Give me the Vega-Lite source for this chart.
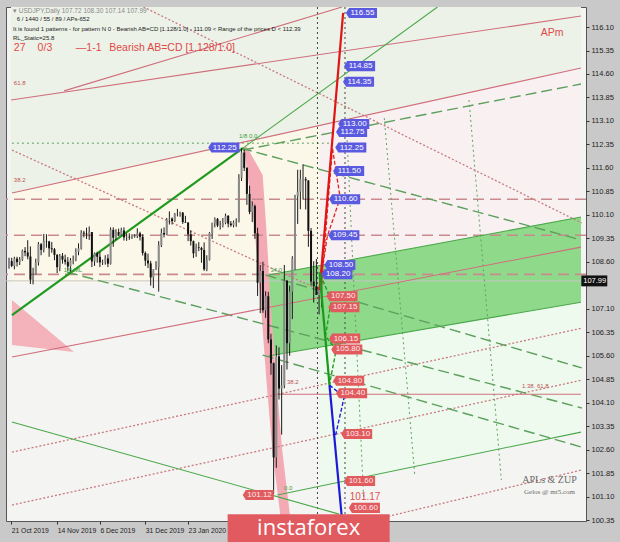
{
  "$schema": "https://vega.github.io/schema/vega-lite/v6.json",
  "width": 580,
  "height": 514,
  "autosize": {"type": "none"},
  "padding": {"left": 6, "top": 7, "right": 34, "bottom": 21},
  "background": "#c9c9c9",
  "config": {
    "view": {"fill": "#f4f4f2", "stroke": "#555555", "strokeWidth": 1},
    "axis": {"labelFont": "Liberation Sans", "labelFontSize": 7.5, "labelColor": "#222222", "tickColor": "#333333", "grid": false, "domain": false, "labelOverlap": false}
  },
  "encoding": {
    "x": {"field": "i", "type": "quantitative", "scale": {"domain": [0.74, 214], "nice": false, "zero": false},
          "axis": {"orient": "bottom", "title": null, "values": [0.8, 18, 34, 51, 67], "labelExpr": "datum.value < 1 ? '21 Oct 2019' : datum.value < 20 ? '14 Nov 2019' : datum.value < 40 ? '6 Dec 2019' : datum.value < 60 ? '31 Dec 2019' : '23 Jan 2020'", "labelAlign": "left", "labelFlush": false, "labelPadding": 3, "tickSize": 3, "labelFontSize": 6.8}},
    "y": {"field": "p", "type": "quantitative", "scale": {"domain": [100.32, 116.74], "nice": false, "zero": false},
          "axis": {"orient": "right", "title": null, "values": [116.10,115.35,114.60,113.85,113.10,112.35,111.60,110.85,110.10,109.35,108.60,107.10,106.35,105.60,104.85,104.10,103.35,102.60,101.85,101.10,100.35], "format": ".2f", "tickSize": 3, "labelPadding": 2}}
  },
  "datasets": {
    "candles": [
      {"i":0,"o":108.44,"h":108.73,"l":108.38,"c":108.62},{"i":1,"o":108.62,"h":108.73,"l":108.43,"c":108.47},{"i":2,"o":108.47,"h":108.76,"l":108.36,"c":108.70},{"i":3,"o":108.70,"h":108.76,"l":108.45,"c":108.59},{"i":4,"o":108.59,"h":108.75,"l":108.50,"c":108.67},
      {"i":5,"o":108.67,"h":108.99,"l":108.63,"c":108.95},{"i":6,"o":108.95,"h":109.07,"l":108.78,"c":108.90},{"i":7,"o":108.90,"h":109.29,"l":108.68,"c":108.77},{"i":8,"o":108.77,"h":109.09,"l":107.89,"c":108.03},{"i":9,"o":108.03,"h":108.41,"l":107.88,"c":108.19},
      {"i":10,"o":108.19,"h":108.70,"l":108.18,"c":108.58},{"i":11,"o":108.58,"h":109.23,"l":108.48,"c":109.16},{"i":12,"o":109.16,"h":109.20,"l":108.81,"c":108.98},{"i":13,"o":108.98,"h":109.49,"l":108.90,"c":109.26},{"i":14,"o":109.26,"h":109.48,"l":109.05,"c":109.25},
      {"i":15,"o":109.25,"h":109.27,"l":108.76,"c":109.03},{"i":16,"o":109.03,"h":109.23,"l":108.89,"c":109.00},{"i":17,"o":109.00,"h":109.04,"l":108.65,"c":108.82},{"i":18,"o":108.82,"h":108.85,"l":108.24,"c":108.43},{"i":19,"o":108.43,"h":108.85,"l":108.30,"c":108.79},
      {"i":20,"o":108.79,"h":108.88,"l":108.54,"c":108.67},{"i":21,"o":108.67,"h":108.83,"l":108.51,"c":108.60},{"i":22,"o":108.60,"h":108.75,"l":108.31,"c":108.45},{"i":23,"o":108.45,"h":108.72,"l":108.28,"c":108.65},{"i":24,"o":108.65,"h":108.80,"l":108.52,"c":108.67},
      {"i":25,"o":108.67,"h":109.03,"l":108.62,"c":108.92},{"i":26,"o":108.92,"h":109.19,"l":108.81,"c":109.03},{"i":27,"o":109.03,"h":109.61,"l":108.99,"c":109.53},{"i":28,"o":109.53,"h":109.59,"l":109.38,"c":109.50},{"i":29,"o":109.50,"h":109.69,"l":109.33,"c":109.48},
      {"i":30,"o":109.48,"h":109.73,"l":109.30,"c":109.55},{"i":31,"o":109.55,"h":109.55,"l":108.43,"c":108.61},{"i":32,"o":108.61,"h":108.90,"l":108.47,"c":108.87},{"i":33,"o":108.87,"h":108.92,"l":108.57,"c":108.76},{"i":34,"o":108.76,"h":108.92,"l":108.43,"c":108.58},
      {"i":35,"o":108.58,"h":108.67,"l":108.50,"c":108.61},{"i":36,"o":108.61,"h":108.81,"l":108.51,"c":108.71},{"i":37,"o":108.71,"h":108.84,"l":108.43,"c":108.54},{"i":38,"o":108.54,"h":109.70,"l":108.51,"c":109.62},{"i":39,"o":109.62,"h":109.70,"l":109.08,"c":109.37},
      {"i":40,"o":109.37,"h":109.64,"l":109.29,"c":109.55},{"i":41,"o":109.55,"h":109.66,"l":109.42,"c":109.47},{"i":42,"o":109.47,"h":109.69,"l":109.45,"c":109.60},{"i":43,"o":109.60,"h":109.70,"l":109.28,"c":109.38},{"i":44,"o":109.38,"h":109.51,"l":109.27,"c":109.40},
      {"i":45,"o":109.40,"h":109.51,"l":109.30,"c":109.38},{"i":46,"o":109.38,"h":109.48,"l":109.33,"c":109.40},{"i":47,"o":109.40,"h":109.48,"l":109.37,"c":109.42},{"i":48,"o":109.42,"h":109.67,"l":109.36,"c":109.51},{"i":49,"o":109.51,"h":109.56,"l":109.28,"c":109.40},
      {"i":50,"o":109.40,"h":109.48,"l":108.80,"c":108.88},{"i":51,"o":108.88,"h":108.93,"l":108.47,"c":108.64},{"i":52,"o":108.64,"h":108.86,"l":108.40,"c":108.55},{"i":53,"o":108.55,"h":108.63,"l":107.84,"c":108.10},{"i":54,"o":108.10,"h":108.31,"l":107.76,"c":108.37},
      {"i":55,"o":108.37,"h":108.62,"l":108.34,"c":108.43},{"i":56,"o":108.43,"h":109.26,"l":107.65,"c":109.13},{"i":57,"o":109.13,"h":109.66,"l":109.07,"c":109.52},{"i":58,"o":109.52,"h":109.70,"l":109.38,"c":109.47},{"i":59,"o":109.47,"h":110.00,"l":109.45,"c":109.95},
      {"i":60,"o":109.95,"h":110.21,"l":109.79,"c":109.98},{"i":61,"o":109.98,"h":110.02,"l":109.79,"c":109.90},{"i":62,"o":109.90,"h":110.16,"l":109.87,"c":110.14},{"i":63,"o":110.14,"h":110.29,"l":110.05,"c":110.14},{"i":64,"o":110.14,"h":110.20,"l":110.04,"c":110.17},
      {"i":65,"o":110.17,"h":110.19,"l":109.81,"c":109.87},{"i":66,"o":109.87,"h":110.07,"l":109.85,"c":109.85},{"i":67,"o":109.85,"h":109.87,"l":109.26,"c":109.48},{"i":68,"o":109.48,"h":109.61,"l":109.12,"c":109.26},{"i":69,"o":109.26,"h":109.28,"l":108.72,"c":108.87},
      {"i":70,"o":108.87,"h":109.18,"l":108.76,"c":109.06},{"i":71,"o":109.06,"h":109.23,"l":108.94,"c":109.04},{"i":72,"o":109.04,"h":109.08,"l":108.57,"c":108.98},{"i":73,"o":108.98,"h":109.22,"l":108.31,"c":108.36},{"i":74,"o":108.36,"h":108.81,"l":108.30,"c":108.66},
      {"i":75,"o":108.66,"h":109.55,"l":108.64,"c":109.52},{"i":76,"o":109.52,"h":109.85,"l":109.33,"c":109.83},{"i":77,"o":109.83,"h":110.02,"l":109.70,"c":109.97},{"i":78,"o":109.97,"h":110.00,"l":109.71,"c":109.76},{"i":79,"o":109.76,"h":109.91,"l":109.63,"c":109.77},
      {"i":80,"o":109.77,"h":110.00,"l":109.70,"c":109.84},{"i":81,"o":109.84,"h":110.14,"l":109.80,"c":110.07},{"i":82,"o":110.07,"h":110.09,"l":109.70,"c":109.82},{"i":83,"o":109.82,"h":109.90,"l":109.72,"c":109.77},{"i":84,"o":109.77,"h":109.92,"l":109.70,"c":109.86},
      {"i":85,"o":109.86,"h":109.99,"l":109.72,"c":109.87},{"i":86,"o":109.87,"h":111.40,"l":109.86,"c":111.28},{"i":87,"o":111.28,"h":112.22,"l":111.18,"c":112.09},{"i":88,"o":112.09,"h":112.18,"l":111.50,"c":111.60},{"i":89,"o":111.60,"h":111.62,"l":110.42,"c":110.77},
      {"i":90,"o":110.77,"h":111.03,"l":110.12,"c":110.19},{"i":91,"o":110.19,"h":110.53,"l":109.87,"c":110.38},{"i":92,"o":110.38,"h":110.43,"l":109.33,"c":109.51},{"i":93,"o":109.51,"h":109.69,"l":107.51,"c":107.93},{"i":94,"o":107.93,"h":108.50,"l":106.96,"c":108.31},
      {"i":95,"o":108.31,"h":108.60,"l":106.97,"c":107.05},{"i":96,"o":107.05,"h":107.66,"l":106.81,"c":107.50},{"i":97,"o":107.50,"h":107.64,"l":106.00,"c":106.12},{"i":98,"o":106.12,"h":106.30,"l":104.99,"c":105.36},{"i":99,"o":105.36,"h":105.38,"l":101.18,"c":102.35},
      {"i":100,"o":102.35,"h":105.93,"l":102.02,"c":105.58},{"i":101,"o":105.58,"h":105.87,"l":104.20,"c":104.55},{"i":102,"o":104.55,"h":105.30,"l":103.08,"c":104.65},{"i":103,"o":104.65,"h":108.50,"l":104.56,"c":108.00},{"i":104,"o":108.00,"h":108.00,"l":105.16,"c":106.00},
      {"i":105,"o":106.00,"h":107.84,"l":105.60,"c":107.65},{"i":106,"o":107.65,"h":108.78,"l":106.77,"c":108.70},{"i":107,"o":108.70,"h":110.74,"l":108.34,"c":110.70},{"i":108,"o":110.70,"h":111.54,"l":109.81,"c":110.84},{"i":109,"o":110.84,"h":111.54,"l":110.28,"c":111.24},
      {"i":110,"o":111.24,"h":111.71,"l":110.59,"c":111.24},{"i":111,"o":111.24,"h":111.31,"l":110.27,"c":111.20},{"i":112,"o":111.20,"h":111.20,"l":109.08,"c":109.59},{"i":113,"o":109.59,"h":109.68,"l":107.84,"c":107.97},{"i":114,"o":107.97,"h":108.62,"l":107.30,"c":107.82},
      {"i":115,"o":107.82,"h":108.69,"l":107.68,"c":107.54},{"i":116,"o":107.54,"h":107.80,"l":106.92,"c":107.72},{"i":117,"o":107.72,"h":108.30,"l":107.14,"c":107.99}
    ],
    "redSolid": [
      {"id":"R1","i":0.74,"p":113.77},{"id":"R1","i":214,"p":116.45},
      {"id":"R2","i":1.1,"p":110.80},{"id":"R2","i":214,"p":114.79},
      {"id":"R3","i":20.6,"p":114.06},{"id":"R3","i":124.6,"p":116.74},
      {"id":"RH","i":99.6,"p":104.37},{"id":"RH","i":214,"p":104.37},
      {"id":"RB","i":1.1,"p":105.56},{"id":"RB","i":214,"p":109.07}
    ],
    "greenSolid": [
      {"id":"GT2","i":87.5,"p":112.23},{"id":"GT2","i":160.3,"p":116.74},
      {"id":"GSL","i":100.4,"p":101.15},{"id":"GSL","i":214,"p":103.16},
      {"id":"GDS","i":1.1,"p":103.48},{"id":"GDS","i":123.5,"p":100.54},
      {"id":"CT","i":97.1,"p":108.18},{"id":"CT","i":214,"p":110.03},
      {"id":"CB","i":97.1,"p":105.59},{"id":"CB","i":214,"p":107.31}
    ],
    "greenDash": [
      {"id":"GL1","i":86.8,"p":112.23},{"id":"GL1","i":214,"p":109.30},
      {"id":"GL2","i":21.7,"p":108.27},{"id":"GL2","i":214.3,"p":103.93},
      {"id":"GL3","i":96.0,"p":108.18},{"id":"GL3","i":214.3,"p":105.21},
      {"id":"GL4","i":94.9,"p":105.62},{"id":"GL4","i":214.3,"p":102.68},
      {"id":"GPR","i":87.5,"p":112.17},{"id":"GPR","i":214,"p":114.28}
    ],
    "pinkDot": [
      {"id":"PD1","i":48.9,"p":116.80},{"id":"PD1","i":214.3,"p":109.84},
      {"id":"PD2","i":1.1,"p":112.17},{"id":"PD2","i":116.2,"p":107.70},
      {"id":"PDa","i":1.1,"p":102.52},{"id":"PDa","i":214.3,"p":106.48},
      {"id":"PDb","i":1.1,"p":100.83},{"id":"PDb","i":214.3,"p":104.82},
      {"id":"PDc","i":134.6,"p":100.32},{"id":"PDc","i":214.3,"p":101.95}
    ],
    "greenDot": [
      {"id":"GD1","i":140.4,"p":113.19},{"id":"GD1","i":151.8,"p":101.79},
      {"id":"GD2","i":172.1,"p":113.77},{"id":"GD2","i":184.2,"p":101.63},
      {"id":"GD3","i":126.5,"p":112.49},{"id":"GD3","i":132.7,"p":100.99},
      {"id":"GH","i":1.1,"p":112.39},{"id":"GH","i":119.9,"p":112.39}
    ],
    "blueLabels": [
      {"i":127.2,"p":116.55,"t":"116.55"},{"i":126.5,"p":114.85,"t":"114.85"},{"i":126.1,"p":114.35,"t":"114.35"},{"i":124.3,"p":113.00,"t":"113.00"},{"i":123.5,"p":112.75,"t":"112.75"},{"i":123.2,"p":112.25,"t":"112.25"},{"i":122.4,"p":111.50,"t":"111.50"},{"i":120.9,"p":110.60,"t":"110.60"},{"i":120.6,"p":109.45,"t":"109.45"},{"i":119.1,"p":108.50,"t":"108.50"},{"i":118.0,"p":108.20,"t":"108.20"},{"i":75.7,"p":112.25,"t":"112.25"}
    ],
    "redLabels": [
      {"i":119.9,"p":107.50,"t":"107.50"},{"i":120.6,"p":107.15,"t":"107.15"},{"i":120.9,"p":106.15,"t":"106.15"},{"i":121.7,"p":105.80,"t":"105.80"},{"i":122.4,"p":104.80,"t":"104.80"},{"i":123.5,"p":104.40,"t":"104.40"},{"i":125.4,"p":103.10,"t":"103.10"},{"i":126.5,"p":101.60,"t":"101.60"},{"i":128.3,"p":100.74,"t":"100.60"},{"i":88.6,"p":101.15,"t":"101.12"}
    ]
  },
  "layer": [
    {
      "data": {"values": [{"i":0.74,"lo":110.79,"hi":116.74},{"i":214,"lo":114.79,"hi":116.74}]},
      "mark": {"type": "area", "color": "#edf2e8", "clip": true},
      "encoding": {"y": {"field": "lo", "type": "quantitative"}, "y2": {"field": "hi"}}
    },
    {
      "data": {"values": [{"i":0.74,"lo":107.92,"hi":110.79},{"i":116.2,"lo":107.92,"hi":112.96}]},
      "mark": {"type": "area", "color": "#fbf8e9", "clip": true},
      "encoding": {"y": {"field": "lo", "type": "quantitative"}, "y2": {"field": "hi"}}
    },
    {
      "data": {"values": [{"i":116.2,"lo":108.48,"hi":112.96},{"i":214,"lo":110.03,"hi":114.79}]},
      "mark": {"type": "area", "color": "#f9f1f1", "clip": true},
      "encoding": {"y": {"field": "lo", "type": "quantitative"}, "y2": {"field": "hi"}}
    },
    {
      "data": {"values": [{"i":116.2,"lo":101.43,"hi":105.87},{"i":214,"lo":103.16,"hi":107.31}]},
      "mark": {"type": "area", "color": "#eefaee", "clip": true},
      "encoding": {"y": {"field": "lo", "type": "quantitative"}, "y2": {"field": "hi"}}
    },
    {
      "data": {"values": [{"i":97.1,"lo":105.59,"hi":108.18},{"i":214,"lo":107.31,"hi":110.03}]},
      "mark": {"type": "area", "color": "#8fd98a", "clip": true},
      "encoding": {"y": {"field": "lo", "type": "quantitative"}, "y2": {"field": "hi"}}
    },
    {
      "data": {"values": [{"p":112.27,"xl":87.9,"xr":89.0},{"p":111.37,"xl":89.3,"xr":94.9},{"p":109.61,"xl":91.9,"xr":96.3},{"p":107.38,"xl":94.1,"xr":97.8},{"p":104.82,"xl":96.3,"xr":100.0},{"p":102.59,"xl":98.5,"xr":102.2},{"p":100.51,"xl":101.5,"xr":105.1}]},
      "mark": {"type": "area", "orient": "horizontal", "color": "#f3aab4", "clip": true},
      "encoding": {"x": {"field": "xl", "type": "quantitative"}, "x2": {"field": "xr"}}
    },
    {
      "data": {"values": [{"i":1.1,"lo":105.94,"hi":107.38},{"i":24.3,"lo":105.72,"hi":105.72}]},
      "mark": {"type": "area", "color": "#f4b3ba", "clip": true},
      "encoding": {"y": {"field": "lo", "type": "quantitative"}, "y2": {"field": "hi"}}
    },
    {
      "data": {"values": [{"p": 107.99}]},
      "mark": {"type": "rule", "color": "#c4c4c4", "strokeWidth": 1},
      "encoding": {"x": null}
    },
    {
      "data": {"values": [{"p": 110.60}, {"p": 109.45}, {"p": 108.20}]},
      "mark": {"type": "rule", "color": "#c98a8e", "strokeWidth": 1.6, "strokeDash": [11, 6]},
      "encoding": {"x": null}
    },
    {
      "data": {"name": "greenDot"},
      "mark": {"type": "line", "color": "#5fa35f", "strokeWidth": 1, "strokeDash": [2, 3], "clip": true},
      "encoding": {"detail": {"field": "id"}}
    },
    {
      "data": {"name": "pinkDot"},
      "mark": {"type": "line", "color": "#c97a7e", "strokeWidth": 1.3, "strokeDash": [2, 2], "clip": true},
      "encoding": {"detail": {"field": "id"}}
    },
    {
      "data": {"values": [{"i": 115.4}, {"i": 125.7}]},
      "mark": {"type": "rule", "color": "#444444", "strokeWidth": 1, "strokeDash": [2, 3]},
      "encoding": {"y": null}
    },
    {
      "data": {"name": "greenDash"},
      "mark": {"type": "line", "color": "#5d9f5d", "strokeWidth": 1.4, "strokeDash": [11, 5], "clip": true},
      "encoding": {"detail": {"field": "id"}}
    },
    {
      "data": {"name": "redSolid"},
      "mark": {"type": "line", "color": "#d06f7c", "strokeWidth": 1.1, "clip": true},
      "encoding": {"detail": {"field": "id"}}
    },
    {
      "data": {"name": "greenSolid"},
      "mark": {"type": "line", "color": "#4aa84a", "strokeWidth": 1.1, "clip": true},
      "encoding": {"detail": {"field": "id"}}
    },
    {
      "data": {"values": [{"i":1.1,"p":106.90},{"i":87.5,"p":112.23}]},
      "mark": {"type": "line", "color": "#1f9a1f", "strokeWidth": 2.2, "clip": true},
      "encoding": {}
    },
    {
      "data": {"name": "candles"},
      "mark": {"type": "rule", "color": "#1a1a1a", "strokeWidth": 1},
      "encoding": {"y": {"field": "l", "type": "quantitative"}, "y2": {"field": "h"}}
    },
    {
      "data": {"name": "candles"},
      "mark": {"type": "bar", "width": 2},
      "encoding": {
        "y": {"field": "o", "type": "quantitative"},
        "y2": {"field": "c"},
        "color": {"condition": {"test": "datum.c >= datum.o", "value": "#8a8a8a"}, "value": "#111111"}
      }
    },
    {
      "data": {"values": [{"k":1,"i":116.9,"p":107.86},{"k":2,"i":121.0,"p":112.23},{"k":3,"i":123.9,"p":110.64},{"k":4,"i":119.1,"p":109.42},{"k":5,"i":116.9,"p":108.18}]},
      "mark": {"type": "line", "color": "#e02020", "strokeWidth": 1.3, "strokeDash": [4, 2], "clip": true},
      "encoding": {"order": {"field": "k"}}
    },
    {
      "data": {"values": [{"i":116.2,"p":107.70},{"i":125.0,"p":116.55}]},
      "mark": {"type": "line", "color": "#e01515", "strokeWidth": 2.2, "clip": true},
      "encoding": {}
    },
    {
      "data": {"values": [{"k":1,"i":116.5,"p":108.18},{"k":2,"i":120.6,"p":107.38},{"k":3,"i":118.4,"p":106.23},{"k":4,"i":122.4,"p":105.78},{"k":5,"i":119.9,"p":104.69}]},
      "mark": {"type": "line", "color": "#22a022", "strokeWidth": 1.4, "strokeDash": [4, 2], "clip": true},
      "encoding": {"order": {"field": "k"}}
    },
    {
      "data": {"values": [{"i":116.2,"p":108.27},{"i":119.9,"p":104.66}]},
      "mark": {"type": "line", "color": "#1a9a1a", "strokeWidth": 2.2, "clip": true},
      "encoding": {}
    },
    {
      "data": {"values": [{"k":1,"i":119.9,"p":104.66},{"k":2,"i":125.4,"p":104.28},{"k":3,"i":122.1,"p":103.03}]},
      "mark": {"type": "line", "color": "#2020d8", "strokeWidth": 1.4, "strokeDash": [4, 2], "clip": true},
      "encoding": {"order": {"field": "k"}}
    },
    {
      "data": {"values": [{"i":119.9,"p":104.66},{"i":124.6,"p":100.35}]},
      "mark": {"type": "line", "color": "#1c1cd8", "strokeWidth": 2.2, "clip": true},
      "encoding": {}
    },
    {
      "data": {"name": "blueLabels"},
      "mark": {"type": "point", "shape": "M-0.11,0L0,-0.18L1,-0.18L1,0.18L0,0.18Z", "size": 3136, "filled": true, "color": "#5a5ae0", "opacity": 1, "strokeWidth": 0},
      "encoding": {}
    },
    {
      "data": {"name": "blueLabels"},
      "mark": {"type": "text", "align": "left", "baseline": "middle", "dx": 1.5, "fontSize": 8, "font": "Liberation Sans", "color": "#ffffff"},
      "encoding": {"text": {"field": "t"}}
    },
    {
      "data": {"name": "redLabels"},
      "mark": {"type": "point", "shape": "M-0.11,0L0,-0.18L1,-0.18L1,0.18L0,0.18Z", "size": 3136, "filled": true, "color": "#e05a5e", "opacity": 1, "strokeWidth": 0},
      "encoding": {}
    },
    {
      "data": {"name": "redLabels"},
      "mark": {"type": "text", "align": "left", "baseline": "middle", "dx": 1.5, "fontSize": 8, "font": "Liberation Sans", "color": "#ffeeee"},
      "encoding": {"text": {"field": "t"}}
    },
    {
      "data": {"values": [{"i":1.5,"p":116.62,"t":"▾ USDJPY,Daily  107.72 108.30 107.14 107.99"}]},
      "mark": {"type": "text", "align": "left", "baseline": "middle", "fontSize": 6.5, "font": "Liberation Sans", "color": "#888888"},
      "encoding": {"text": {"field": "t"}}
    },
    {
      "data": {"values": [{"i":2.9,"p":116.36,"t":"6 / 1440 / 55 / 89 / APs-652"},{"i":1.5,"p":116.04,"t":"It is found 1 patterns  -  for pattern N 0 - Bearish AB=CD [1.128/1.0] - 111.09 < Range of the prices D < 112.39"},{"i":1.5,"p":115.75,"t":"RL_Static=25.8"}]},
      "mark": {"type": "text", "align": "left", "baseline": "middle", "fontSize": 6, "font": "Liberation Sans", "color": "#222222"},
      "encoding": {"text": {"field": "t"}}
    },
    {
      "data": {"values": [{"i":1.8,"p":115.43,"t":"27"},{"i":10.7,"p":115.43,"t":"0/3"},{"i":25.0,"p":115.43,"t":"—1-1"},{"i":37.5,"p":115.43,"t":"Bearish AB=CD [1.128/1.0]"},{"i":198.9,"p":115.91,"t":"APm"}]},
      "mark": {"type": "text", "align": "left", "baseline": "middle", "fontSize": 10.5, "font": "Liberation Sans", "color": "#e04848"},
      "encoding": {"text": {"field": "t"}}
    },
    {
      "data": {"values": [{"i":1.8,"p":114.3,"t":"61.8"},{"i":1.8,"p":111.2,"t":"38.2"},{"i":104.0,"p":104.76,"t":"38.2"},{"i":191.9,"p":104.63,"t":"1.38. 61.8"}]},
      "mark": {"type": "text", "align": "left", "baseline": "middle", "fontSize": 6, "font": "Liberation Sans", "color": "#c05050"},
      "encoding": {"text": {"field": "t"}}
    },
    {
      "data": {"values": [{"i":97.8,"p":108.34,"t":"34.0"},{"i":102.9,"p":101.37,"t":"0.0"},{"i":20.5,"p":108.34,"t":"1/8 ML"},{"i":86.0,"p":112.62,"t":"1/8 0.0"}]},
      "mark": {"type": "text", "align": "left", "baseline": "middle", "fontSize": 6, "font": "Liberation Sans", "color": "#3f9a3f"},
      "encoding": {"text": {"field": "t"}}
    },
    {
      "data": {"values": [{"i":202.2,"p":101.62,"t":"APLs & ZUP"}]},
      "mark": {"type": "text", "align": "center", "baseline": "middle", "fontSize": 10, "font": "Liberation Serif", "color": "#6a6a6a"},
      "encoding": {"text": {"field": "t"}}
    },
    {
      "data": {"values": [{"i":202.2,"p":101.25,"t":"Gelos @ mt5.com"}]},
      "mark": {"type": "text", "align": "center", "baseline": "middle", "fontSize": 7, "font": "Liberation Serif", "color": "#6a6a6a"},
      "encoding": {"text": {"field": "t"}}
    },
    {
      "data": {"values": [{"i":127.5,"p":101.09,"t":"101.17"}]},
      "mark": {"type": "text", "align": "left", "baseline": "middle", "fontSize": 10, "font": "Liberation Sans", "color": "#e05050"},
      "encoding": {"text": {"field": "t"}}
    },
    {
      "data": {"values": [{"i":214.1,"p":107.99,"t":"107.99"}]},
      "mark": {"type": "point", "shape": "M0,-0.21L1,-0.21L1,0.21L0,0.21Z", "size": 2704, "filled": true, "color": "#111111", "opacity": 1, "strokeWidth": 0},
      "encoding": {}
    },
    {
      "data": {"values": [{"i":214.1,"p":107.99,"t":"107.99"}]},
      "mark": {"type": "text", "align": "left", "baseline": "middle", "dx": 2, "fontSize": 7.5, "font": "Liberation Sans", "color": "#ffffff"},
      "encoding": {"text": {"field": "t"}}
    },
    {
      "data": {"values": [{"i":112.1,"p":100.09,"t":"instaforex"}]},
      "mark": {"type": "point", "shape": "M-1,-0.173L1,-0.173L1,0.173L-1,0.173Z", "size": 26244, "filled": true, "color": "#e05a5f", "opacity": 1, "strokeWidth": 0},
      "encoding": {}
    },
    {
      "data": {"values": [{"i":112.1,"p":100.09,"t":"instaforex"}]},
      "mark": {"type": "text", "align": "center", "baseline": "middle", "fontSize": 22, "font": "Open Sans", "color": "#ffffff"},
      "encoding": {"text": {"field": "t"}}
    }
  ]
}
